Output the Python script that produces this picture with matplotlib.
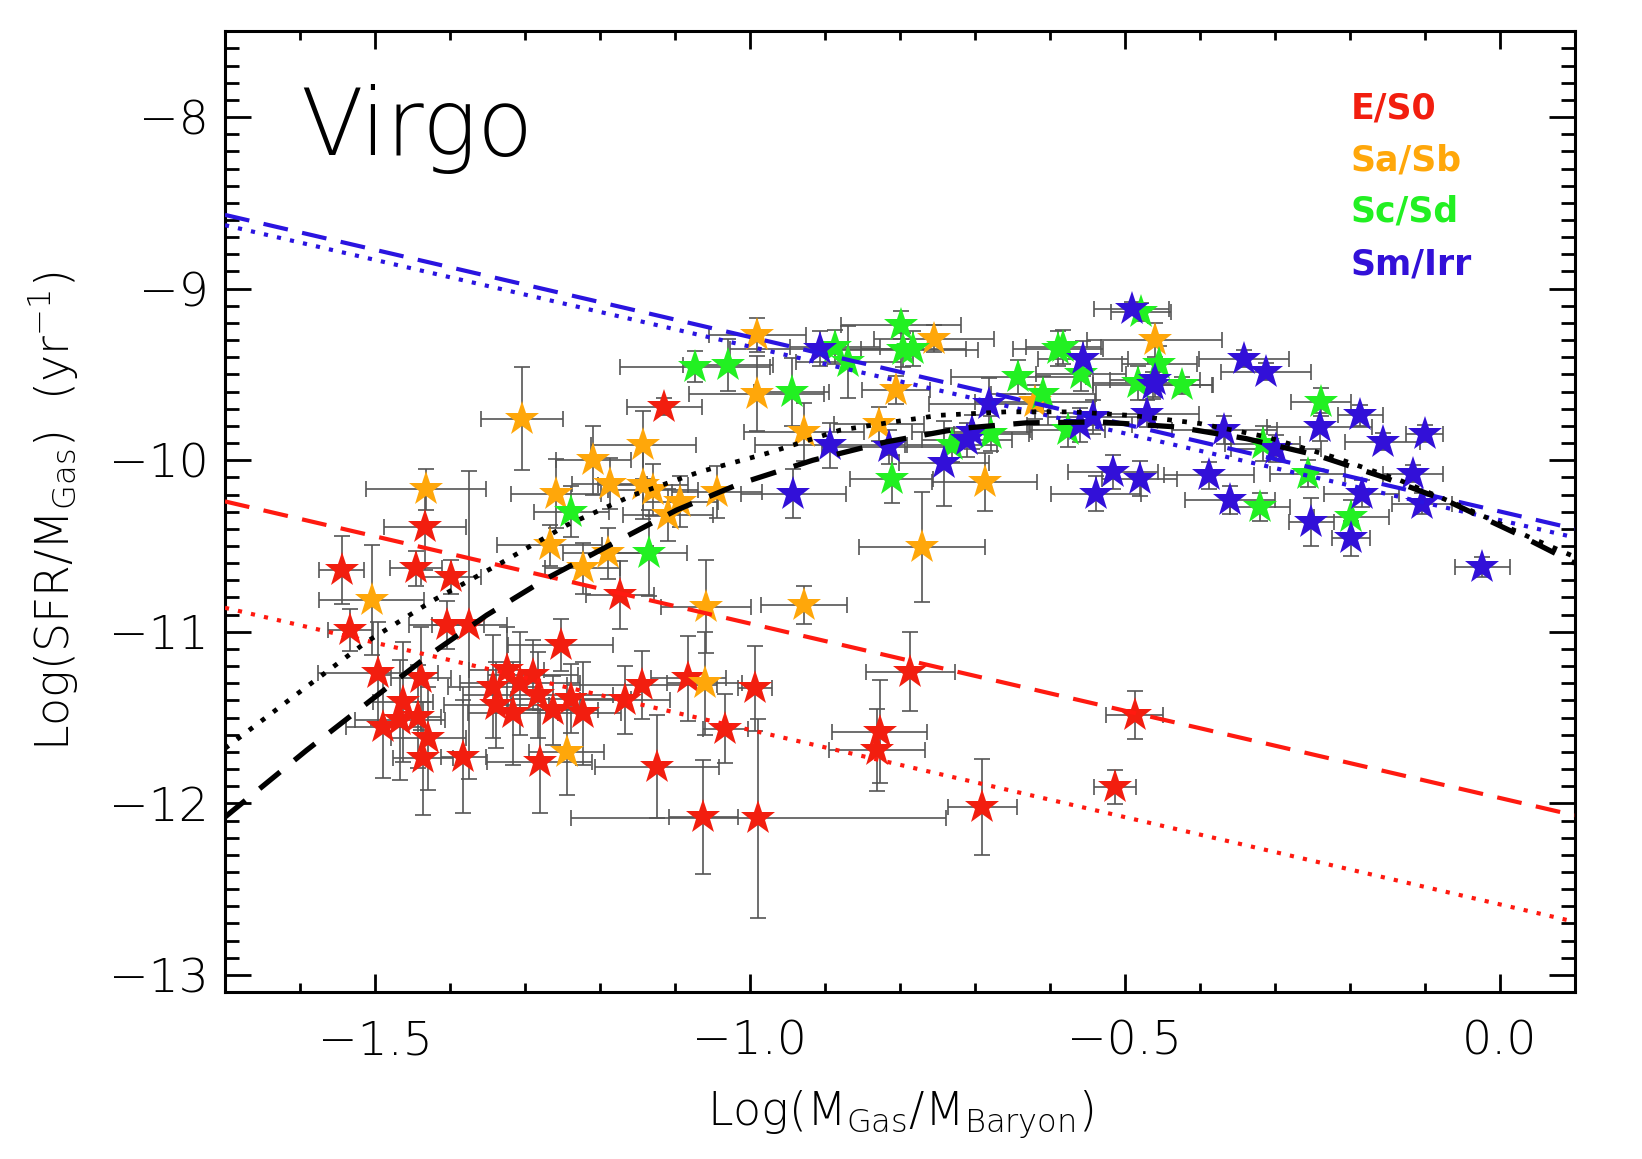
import matplotlib
matplotlib.use('Agg')
import matplotlib.pyplot as plt

plt.rcParams['mathtext.fontset'] = 'custom'
plt.rcParams['mathtext.rm'] = 'DejaVu Sans:light'
plt.rcParams['mathtext.it'] = 'DejaVu Sans:light'
plt.rcParams['mathtext.bf'] = 'DejaVu Sans:light'

# E/S0 (red): x, y, xerr, yerr
es0_x = [-1.114, -1.544, -1.433, -1.445, -1.399, -1.533, -1.404, -1.374, -1.252, -1.173,
         -1.496, -1.438, -1.462, -1.489, -1.467, -1.442, -1.429, -1.436, -1.382, -1.342,
         -1.324, -1.307, -1.289, -1.338, -1.316, -1.282, -1.262, -1.238, -1.222, -1.280,
         -1.167, -1.144, -1.082, -0.993, -1.033, -1.124, -1.062, -0.989, -0.786, -0.827,
         -0.831, -0.690, -0.487, -0.513]
es0_y = [-9.689, -10.64, -10.388, -10.631, -10.68, -10.99, -10.96, -10.96, -11.078, -10.786,
         -11.243, -11.272, -11.408, -11.554, -11.515, -11.495, -11.62, -11.738, -11.728, -11.32,
         -11.22, -11.30, -11.25, -11.427, -11.476, -11.369, -11.457, -11.389, -11.476, -11.758,
         -11.398, -11.31, -11.272, -11.33, -11.564, -11.787, -12.079, -12.088, -11.234, -11.583,
         -11.69, -12.02, -11.486, -11.904]
es0_xe = [0.05, 0.03, 0.055, 0.035, 0.04, 0.03, 0.05, 0.05, 0.07, 0.045,
          0.08, 0.04, 0.04, 0.05, 0.06, 0.03, 0.05, 0.04, 0.03, 0.06,
          0.05, 0.08, 0.06, 0.07, 0.06, 0.10, 0.06, 0.08, 0.05, 0.07,
          0.06, 0.10, 0.05, 0.023, 0.03, 0.083, 0.046, 0.25, 0.059, 0.063,
          0.064, 0.046, 0.038, 0.028]
es0_ye = [0.05, 0.20, 0.25, 0.10, 0.10, 0.12, 0.14, 0.90, 0.15, 0.20,
          0.30, 0.30, 0.35, 0.30, 0.35, 0.30, 0.30, 0.33, 0.33, 0.30,
          0.25, 0.30, 0.20, 0.25, 0.30, 0.25, 0.20, 0.20, 0.30, 0.30,
          0.20, 0.20, 0.25, 0.25, 0.20, 0.30, 0.33, 0.58, 0.23, 0.30,
          0.24, 0.28, 0.14, 0.10]

# Sa/Sb (orange)
sab_x = [-1.304, -1.432, -1.504, -1.267, -1.223, -1.189, -1.258, -1.209, -1.187, -1.142,
         -1.142, -1.129, -1.044, -1.093, -1.109, -1.058, -1.060, -1.244, -0.990, -0.991,
         -0.928, -0.805, -0.828, -0.754, -0.687, -0.928, -0.770, -0.620, -0.460]
sab_y = [-9.757, -10.17, -10.816, -10.495, -10.631, -10.543, -10.194, -10.0, -10.136, -9.912,
         -10.145, -10.174, -10.184, -10.242, -10.32, -10.854, -11.30, -11.70, -9.272, -9.612,
         -9.835, -9.592, -9.790, -9.291, -10.126, -10.845, -10.505, -9.66, -9.301]
sab_xe = [0.055, 0.08, 0.07, 0.07, 0.05, 0.06, 0.06, 0.05, 0.05, 0.07,
          0.06, 0.06, 0.06, 0.05, 0.06, 0.06, 0.05, 0.05, 0.065, 0.09,
          0.08, 0.045, 0.06, 0.08, 0.07, 0.057, 0.084, 0.08, 0.09]
sab_ye = [0.30, 0.12, 0.32, 0.12, 0.15, 0.15, 0.20, 0.20, 0.15, 0.20,
          0.20, 0.15, 0.15, 0.15, 0.15, 0.27, 0.30, 0.25, 0.10, 0.22,
          0.17, 0.08, 0.10, 0.08, 0.17, 0.11, 0.32, 0.10, 0.10]

# Sc/Sd (green)
scd_x = [-1.238, -1.134, -1.073, -1.029, -0.887, -0.869, -0.799, -0.796, -0.782, -0.944,
         -0.811, -0.731, -0.678, -0.642, -0.609, -0.589, -0.582, -0.558, -0.576, -0.478,
         -0.482, -0.454, -0.424, -0.316, -0.238, -0.320, -0.256, -0.198]
scd_y = [-10.30, -10.54, -9.456, -9.446, -9.34, -9.427, -9.213, -9.359, -9.349, -9.602,
         -10.107, -9.913, -9.845, -9.514, -9.612, -9.349, -9.34, -9.495, -9.825, -9.136,
         -9.548, -9.437, -9.563, -9.903, -9.660, -10.272, -10.078, -10.33]
scd_xe = [0.05, 0.05, 0.10, 0.06, 0.06, 0.07, 0.08, 0.10, 0.07, 0.05,
          0.055, 0.06, 0.05, 0.09, 0.07, 0.06, 0.05, 0.06, 0.05, 0.04,
          0.06, 0.05, 0.04, 0.05, 0.04, 0.04, 0.05, 0.05]
scd_ye = [0.15, 0.25, 0.09, 0.15, 0.10, 0.21, 0.08, 0.10, 0.10, 0.20,
          0.14, 0.10, 0.10, 0.10, 0.10, 0.10, 0.10, 0.10, 0.10, 0.05,
          0.10, 0.10, 0.05, 0.10, 0.08, 0.08, 0.08, 0.10]

# Sm/Irr (blue)
smi_x = [-0.907, -0.893, -0.814, -0.942, -0.741, -0.704, -0.711, -0.681, -0.556, -0.560,
         -0.542, -0.491, -0.462, -0.460, -0.471, -0.538, -0.516, -0.480, -0.341, -0.312,
         -0.367, -0.298, -0.240, -0.186, -0.156, -0.100, -0.116, -0.104, -0.388, -0.360,
         -0.184, -0.251, -0.198, -0.023]
smi_y = [-9.349, -9.913, -9.922, -10.194, -10.019, -9.835, -9.884, -9.670, -9.408, -9.796,
         -9.748, -9.116, -9.563, -9.534, -9.728, -10.194, -10.068, -10.107, -9.408, -9.485,
         -9.825, -9.932, -9.806, -9.738, -9.893, -9.845, -10.078, -10.253, -10.088, -10.233,
         -10.194, -10.36, -10.456, -10.622]
smi_xe = [0.12, 0.10, 0.09, 0.07, 0.06, 0.08, 0.06, 0.08, 0.06, 0.07,
          0.06, 0.05, 0.08, 0.06, 0.07, 0.06, 0.06, 0.05, 0.06, 0.06,
          0.07, 0.06, 0.07, 0.03, 0.05, 0.025, 0.04, 0.04, 0.06, 0.06,
          0.05, 0.03, 0.025, 0.037]
smi_ye = [0.10, 0.13, 0.10, 0.14, 0.25, 0.10, 0.10, 0.15, 0.10, 0.10,
          0.10, 0.04, 0.08, 0.10, 0.08, 0.10, 0.10, 0.10, 0.05, 0.05,
          0.08, 0.08, 0.08, 0.06, 0.05, 0.05, 0.05, 0.06, 0.08, 0.08,
          0.08, 0.14, 0.10, 0.06]

# fit lines (end points)
line_x = [-1.7, 0.1]
blue_dash_y = [-8.57, -10.40]
blue_dot_y = [-8.63, -10.45]
red_dash_y = [-10.24, -12.07]
red_dot_y = [-10.86, -12.69]

# black curves
bdash_x = [-1.70, -1.591, -1.511, -1.431, -1.351, -1.271, -1.187, -1.098, -1.013, -0.916,
           -0.818, -0.72, -0.631, -0.533, -0.431, -0.338, -0.244, -0.156, -0.067, 0.022, 0.10]
bdash_y = [-12.08, -11.69, -11.418, -11.146, -10.903, -10.689, -10.495, -10.291, -10.136, -10.0,
           -9.893, -9.815, -9.782, -9.777, -9.806, -9.874, -9.971, -10.097, -10.243, -10.427, -10.60]
bdot_x = [-1.70, -1.591, -1.511, -1.422, -1.333, -1.244, -1.156, -1.067, -0.978, -0.88,
          -0.809, -0.747, -0.658, -0.569, -0.488, -0.4, -0.311, -0.222, -0.133, -0.044, 0.044, 0.10]
bdot_y = [-11.68, -11.32, -11.058, -10.816, -10.602, -10.378, -10.204, -10.068, -9.961, -9.825,
          -9.777, -9.738, -9.718, -9.718, -9.74, -9.786, -9.864, -9.981, -10.117, -10.282, -10.457, -10.563]

groups = [
    ("E/S0", "#f21e0f", es0_x, es0_y, es0_xe, es0_ye),
    ("Sa/Sb", "#ffa70a", sab_x, sab_y, sab_xe, sab_ye),
    ("Sc/Sd", "#22f022", scd_x, scd_y, scd_xe, scd_ye),
    ("Sm/Irr", "#3210d8", smi_x, smi_y, smi_xe, smi_ye),
]

fig = plt.figure(figsize=(16.42, 11.59), dpi=100)
ax = fig.add_axes([0.137, 0.144, 0.822, 0.829])

# error bars first, then stars
for name, col, x, y, xe, ye in groups:
    ax.errorbar(x, y, xerr=xe, yerr=ye, fmt='none', ecolor='#555555',
                elinewidth=1.2, capsize=6, capthick=1.2, zorder=1)
for name, col, x, y, xe, ye in groups:
    ax.plot(x, y, '*', color=col, markersize=26, markeredgewidth=0, zorder=2)

ax.plot(line_x, blue_dash_y, color='#2a14e0', lw=3.0, dashes=(6, 3.5), zorder=3)
ax.plot(line_x, blue_dot_y, color='#2a14e0', lw=3.0, dashes=(1, 2.2), zorder=3)
ax.plot(line_x, red_dash_y, color='#ff1a10', lw=3.0, dashes=(6, 3.5), zorder=3)
ax.plot(line_x, red_dot_y, color='#ff1a10', lw=3.0, dashes=(1, 2.2), zorder=3)
ax.plot(bdash_x, bdash_y, color='black', lw=3.8, dashes=(5, 3.5), zorder=3)
ax.plot(bdot_x, bdot_y, color='black', lw=3.4, dashes=(1, 2.2), zorder=3)

ax.set_xlim(-1.7, 0.1)
ax.set_ylim(-13.1, -7.5)
ax.set_xticks([-1.5, -1.0, -0.5, 0.0])
ax.set_xticklabels(['\u22121.5', '\u22121.0', '\u22120.5', '0.0'])
ax.set_xticks([v / 10 for v in range(-17, 2)], minor=True)
ax.set_yticks([-13, -12, -11, -10, -9, -8])
ax.set_yticks([v / 10 for v in range(-131, -74)], minor=True)

for s in ax.spines.values():
    s.set_linewidth(2.2)
ax.tick_params(axis='both', which='both', direction='in', top=True, right=True, width=2)
ax.tick_params(axis='x', which='major', length=13, pad=20, labelsize=34)
ax.tick_params(axis='x', which='minor', length=6.5)
ax.tick_params(axis='y', which='major', length=19, pad=12, labelsize=34)
ax.tick_params(axis='y', which='minor', length=10)
for lab in ax.get_xticklabels() + ax.get_yticklabels():
    lab.set_fontweight('light')

ax.set_xlabel(r'Log(M$_{\rm Gas}$/M$_{\rm Baryon}$)', fontsize=33, fontweight='light')
ax.set_ylabel(r'Log(SFR/M$_{\rm Gas}$)  (yr$^{-1}$)', fontsize=33, fontweight='light')
ax.xaxis.label.set_va('center')
ax.yaxis.label.set_va('center')
ax.xaxis.set_label_coords(0.5, -0.128)
ax.yaxis.set_label_coords(-0.127, 0.5)

ax.text(0.0556, 0.871, 'Virgo', transform=ax.transAxes, fontsize=66,
        fontweight='light', ha='left', va='baseline')

legend_y = [0.920, 0.866, 0.812, 0.757]
for (name, col, *_), ly in zip(groups, legend_y):
    ax.text(0.834, ly, name, transform=ax.transAxes, fontsize=25, color=col,
            fontweight='bold', ha='left', va='center')

fig.savefig('out.png', dpi=100)
